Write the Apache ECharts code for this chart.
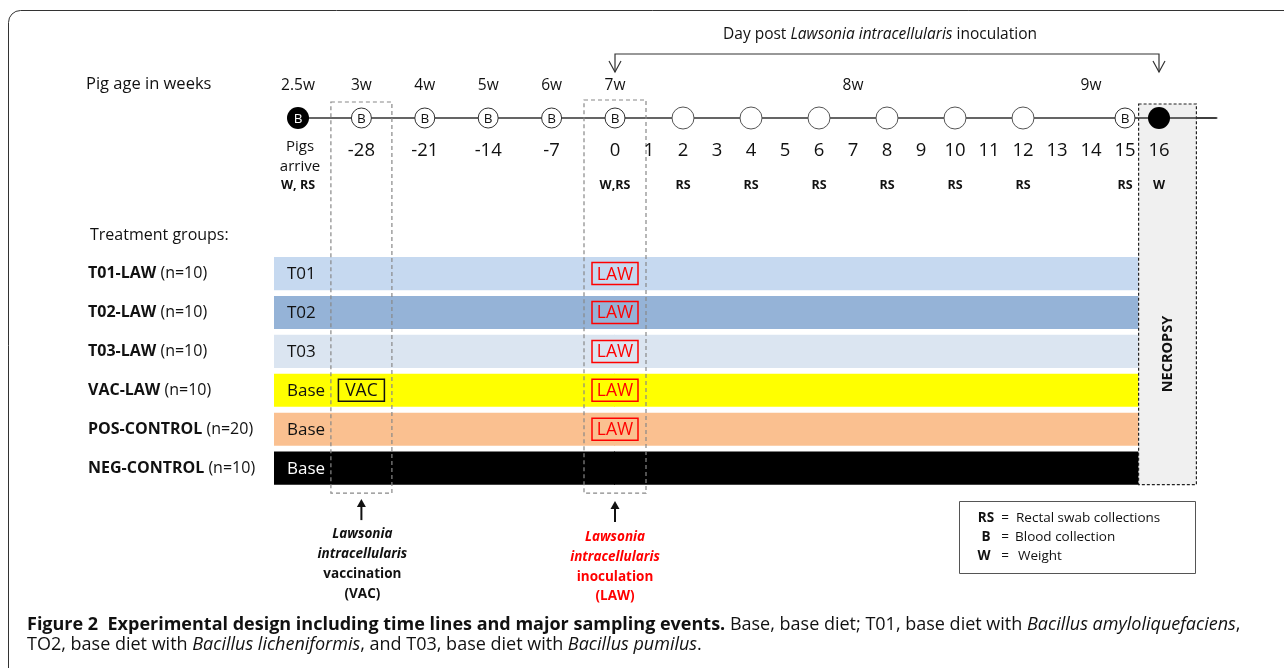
<!DOCTYPE html>
<html><head><meta charset="utf-8">
<script src="https://cdn.jsdelivr.net/npm/echarts@6/dist/echarts.min.js"></script>
<style>html,body{margin:0;padding:0;background:#fff}#c{width:1284px;height:668px}</style>
</head><body><div id="c"></div>
<script>
// ---------- data ----------
const preColumns = ['arrive', '-28', '-21', '-14', '-7', '0'];
const preWeeks = ['2.5w', '3w', '4w', '5w', '6w', '7w'];
const preNodes = ['B-filled', 'B', 'B', 'B', 'B', null];
const preSamples = ['W, RS', '', '', '', '', ''];
const postDayTicks = [0, 1, 2, 3, 4, 5, 6, 7, 8, 9, 10, 11, 12, 13, 14, 15, 16];
const postDays = [0, 2, 4, 6, 8, 10, 12, 15, 16];
const postNodes = ['B', 'open', 'open', 'open', 'open', 'open', 'open', 'B', 'filled'];
const postSamples = ['W,RS', 'RS', 'RS', 'RS', 'RS', 'RS', 'RS', 'RS', 'W'];
const postWeekDays = [7, 14];
const postWeekLabels = ['8w', '9w'];
const groups = ['T01-LAW', 'T02-LAW', 'T03-LAW', 'VAC-LAW', 'POS-CONTROL', 'NEG-CONTROL'];
const groupN = [10, 10, 10, 10, 20, 10];
const groupDiet = ['T01', 'T02', 'T03', 'Base', 'Base', 'Base'];
const groupVac = [false, false, false, true, false, false];
const groupLaw = [true, true, true, true, true, false];
const vacColumn = '-28';
const lawDay = 0;
const treatmentEndDay = 15.4;
const necropsyRange = [15.4, 17.1];
const bracketDays = [0, 16];
const dayMax = 17.7;

// ---------- styles ----------
const groupColors = ['#c6d9f0', '#95b3d7', '#dbe5f1', '#ffff00', '#fac090', '#000000'];
const groupTextColors = ['#111', '#111', '#111', '#111', '#111', '#fff'];
const FONT = '"Open Sans", Lato, sans-serif';
const ROW0 = 4;

function txt(text, x, y, o) {
  o = o || {};
  return { type: 'text', x: x, y: y, rotation: o.rotation || 0,
    style: { text: text, align: o.align || 'center', verticalAlign: 'middle',
      fill: o.fill || '#111', fontSize: o.size || 15, fontFamily: o.font || FONT,
      fontWeight: o.weight || 'normal', fontStyle: o.style || 'normal', rich: o.rich } };
}
function nodeShapes(type, x, y) {
  if (type === 'B-filled') return [
    { type: 'circle', shape: { cx: x, cy: y, r: 11 }, style: { fill: '#000' } },
    txt('B', x, y + 1, { fill: '#fff', size: 13.5 })];
  if (type === 'B') return [
    { type: 'circle', shape: { cx: x, cy: y, r: 10 }, style: { fill: '#fff', stroke: '#333', lineWidth: 1 } },
    txt('B', x, y + 1, { size: 13.5 })];
  if (type === 'open') return [
    { type: 'circle', shape: { cx: x, cy: y, r: 11 }, style: { fill: '#fff', stroke: '#555', lineWidth: 1 } }];
  if (type === 'filled') return [
    { type: 'circle', shape: { cx: x, cy: y, r: 11 }, style: { fill: '#000' } }];
  return [];
}

const groupData = groups.map((g, i) => [0, i + ROW0, i]);
const axisLine = { onZero: true, lineStyle: { color: '#333', width: 1.5 } };
const capRich = {
  b: { fontWeight: 'bold', fontSize: 18, fontFamily: FONT, fill: '#111' },
  r: { fontSize: 18, fontFamily: FONT, fill: '#111' },
  i: { fontSize: 18, fontFamily: FONT, fontStyle: 'italic', fill: '#111' } };

const option = {
  animation: false,
  backgroundColor: '#fff',
  grid: [
    { left: 298, right: 669, top: 79.1, bottom: 161 },
    { left: 615, right: 1284 - (615 + dayMax * 34), top: 79.1, bottom: 161 }
  ],
  xAxis: [
    { gridIndex: 0, type: 'category', data: preColumns, boundaryGap: false,
      axisLine: axisLine, axisTick: { show: false }, splitLine: { show: false }, axisLabel: { show: false } },
    { gridIndex: 1, type: 'value', min: 0, max: dayMax, interval: 1,
      axisLine: axisLine, axisTick: { show: false }, splitLine: { show: false }, axisLabel: { show: false } }
  ],
  yAxis: [
    { gridIndex: 0, type: 'value', min: -1, max: 10, inverse: true, show: false },
    { gridIndex: 1, type: 'value', min: -1, max: 10, inverse: true, show: false }
  ],
  graphic: [
    { type: 'rect', shape: { x: 8.5, y: 10.5, width: 1400, height: 700, r: 12 },
      style: { fill: null, stroke: '#333', lineWidth: 1 }, z: 100 },
    txt('Pig age in weeks', 86, 84, { align: 'left', size: 16.5 }),
    txt('Treatment groups:', 90, 235, { align: 'left', size: 16 }),
    { type: 'rect', shape: { x: 959.5, y: 501.5, width: 236, height: 72 },
      style: { fill: '#fff', stroke: '#555', lineWidth: 1 } },
    txt('RS', 986, 518, { weight: 'bold', size: 13.5 }), txt('=', 1005, 518, { size: 13.5 }),
    txt('Rectal swab collections', 1016, 518, { align: 'left', size: 13.5 }),
    txt('B', 986, 537, { weight: 'bold', size: 13.5 }), txt('=', 1005, 537, { size: 13.5 }),
    txt('Blood collection', 1015, 537, { align: 'left', size: 13.5 }),
    txt('W', 984, 556, { weight: 'bold', size: 13.5 }), txt('=', 1005, 556, { size: 13.5 }),
    txt('Weight', 1018, 556, { align: 'left', size: 13.5 }),
    txt('{b|Figure 2  Experimental design including time lines and major sampling events.}{r| Base, base diet; T01, base diet with }{i|Bacillus amyloliquefaciens}{r|,}', 27, 625, { align: 'left', rich: capRich }),
    txt('{r|TO2, base diet with }{i|Bacillus licheniformis}{r|, and T03, base diet with }{i|Bacillus pumilus}{r|.}', 27, 645, { align: 'left', rich: capRich })
  ],
  series: [
    // treatment bars, pre-inoculation part
    { type: 'custom', xAxisIndex: 0, yAxisIndex: 0, clip: false, data: groupData, encode: { x: 0, y: 1 },
      renderItem: function (params, api) {
        const i = api.value(2), row = api.value(1);
        const p0 = api.coord([0, row]), p1 = api.coord([preColumns.length - 1, row]);
        const h = api.size([0, 1])[1] * 0.85;
        const x0 = p0[0] - 24;
        const ch = [
          { type: 'rect', shape: { x: x0, y: p0[1] - h / 2, width: p1[0] - x0, height: h }, style: { fill: groupColors[i] } },
          txt(groupDiet[i], x0 + 13, p0[1] + 1, { align: 'left', size: 17, fill: groupTextColors[i] }),
          txt('{a|' + groups[i] + '}{b| (n=' + groupN[i] + ')}', x0 - 186, p0[1], { align: 'left',
            rich: { a: { fontWeight: 'bold', fontSize: 16, fontFamily: FONT, fill: '#111' },
                    b: { fontSize: 16, fontFamily: FONT, fill: '#111' } } })
        ];
        if (groupVac[i]) {
          const pv = api.coord([preColumns.indexOf(vacColumn), row]);
          ch.push({ type: 'rect', shape: { x: pv[0] - 23, y: pv[1] - 11, width: 46, height: 22 },
            style: { fill: null, stroke: '#111', lineWidth: 1.5 } });
          ch.push(txt('VAC', pv[0], pv[1] + 1, { size: 17.5 }));
        }
        return { type: 'group', children: ch };
      } },
    // treatment bars, post-inoculation part
    { type: 'custom', xAxisIndex: 1, yAxisIndex: 1, clip: false, data: groupData, encode: { x: 0, y: 1 },
      renderItem: function (params, api) {
        const i = api.value(2), row = api.value(1);
        const p0 = api.coord([0, row]), p1 = api.coord([treatmentEndDay, row]);
        const h = api.size([0, 1])[1] * 0.85;
        const ch = [{ type: 'rect', shape: { x: p0[0] - 1, y: p0[1] - h / 2, width: p1[0] - p0[0] + 1, height: h }, style: { fill: groupColors[i] } }];
        if (groupLaw[i]) {
          const pl = api.coord([lawDay, row]);
          ch.push({ type: 'rect', shape: { x: pl[0] - 23, y: pl[1] - 11, width: 46, height: 22 },
            style: { fill: null, stroke: '#ff0000', lineWidth: 1.5 } });
          ch.push(txt('LAW', pl[0], pl[1] + 1, { size: 17.5, fill: '#ff0000' }));
        }
        return { type: 'group', children: ch };
      } },
    // necropsy column
    { type: 'custom', xAxisIndex: 1, yAxisIndex: 1, clip: false,
      data: [[necropsyRange[0], 0, necropsyRange[1]]], encode: { x: [0, 2], y: 1 },
      renderItem: function (params, api) {
        const a = api.coord([api.value(0), 0]), b = api.coord([api.value(2), 0]);
        const last = api.coord([0, groups.length - 1 + ROW0]);
        const h = api.size([0, 1])[1] * 0.85;
        const top = a[1] - 14, bottom = last[1] + h / 2;
        return { type: 'group', children: [
          { type: 'rect', shape: { x: a[0], y: top, width: b[0] - a[0], height: bottom - top },
            style: { fill: '#f0f0f0', stroke: '#222', lineWidth: 1.2, lineDash: [3, 2] } },
          { type: 'line', shape: { x1: a[0], y1: a[1], x2: b[0] + 20, y2: a[1] }, style: { stroke: '#333', lineWidth: 1.5 } },
          txt('NECROPSY', (a[0] + b[0]) / 2, 354, { rotation: Math.PI / 2, weight: 'bold', size: 14.5 })
        ] };
      } },
    // dashed event box + arrow + caption (vaccination)
    { type: 'custom', xAxisIndex: 0, yAxisIndex: 0, clip: false,
      data: [[preColumns.indexOf(vacColumn), 0]], encode: { x: 0, y: 1 },
      renderItem: function (params, api) {
        const p = api.coord([api.value(0), 0]);
        const last = api.coord([0, groups.length - 1 + ROW0]);
        const top = p[1] - 16, bottom = last[1] + 25;
        const x = p[0];
        return { type: 'group', children: [
          { type: 'rect', shape: { x: x - 30.5, y: top, width: 61, height: bottom - top },
            style: { fill: null, stroke: '#888', lineWidth: 1.2, lineDash: [4, 3] } },
          { type: 'line', shape: { x1: x, y1: bottom + 10, x2: x, y2: bottom + 27 }, style: { stroke: '#111', lineWidth: 2 } },
          { type: 'polygon', shape: { points: [[x, bottom + 6], [x - 4.5, bottom + 14], [x + 4.5, bottom + 14]] }, style: { fill: '#111' } },
          txt('Lawsonia', x + 1, bottom + 41, { weight: 'bold', style: 'italic', size: 13.5 }),
          txt('intracellularis', x + 1, bottom + 61, { weight: 'bold', style: 'italic', size: 13.5 }),
          txt('vaccination', x + 1, bottom + 81, { weight: 'bold', size: 13.5 }),
          txt('(VAC)', x + 1, bottom + 101, { weight: 'bold', size: 13.5 })
        ] };
      } },
    // dashed event box + arrow + caption (inoculation)
    { type: 'custom', xAxisIndex: 1, yAxisIndex: 1, clip: false,
      data: [[lawDay, 0]], encode: { x: 0, y: 1 },
      renderItem: function (params, api) {
        const p = api.coord([api.value(0), 0]);
        const last = api.coord([0, groups.length - 1 + ROW0]);
        const top = p[1] - 18, bottom = last[1] + 25;
        const x = p[0];
        const red = '#ff0000';
        return { type: 'group', children: [
          { type: 'rect', shape: { x: x - 31, y: top, width: 62, height: bottom - top },
            style: { fill: null, stroke: '#888', lineWidth: 1.2, lineDash: [4, 3] } },
          { type: 'line', shape: { x1: x, y1: bottom + 12, x2: x, y2: bottom + 29 }, style: { stroke: '#111', lineWidth: 2 } },
          { type: 'polygon', shape: { points: [[x, bottom + 8], [x - 4.5, bottom + 16], [x + 4.5, bottom + 16]] }, style: { fill: '#111' } },
          txt('Lawsonia', x, bottom + 44, { weight: 'bold', style: 'italic', size: 13.5, fill: red }),
          txt('intracellularis', x, bottom + 64, { weight: 'bold', style: 'italic', size: 13.5, fill: red }),
          txt('inoculation', x, bottom + 84, { weight: 'bold', size: 13.5, fill: red }),
          txt('(LAW)', x, bottom + 103, { weight: 'bold', size: 13.5, fill: red })
        ] };
      } },
    // timeline nodes + labels before inoculation
    { type: 'custom', xAxisIndex: 0, yAxisIndex: 0, clip: false,
      data: preColumns.map((c, i) => [i, 0, i]), encode: { x: 0, y: 1 },
      renderItem: function (params, api) {
        const i = api.value(2); const p = api.coord([i, 0]);
        let ch = [];
        if (preWeeks[i]) ch.push(txt(preWeeks[i], p[0], p[1] - 32, { size: 15.5 }));
        if (preNodes[i]) ch = ch.concat(nodeShapes(preNodes[i], p[0], p[1]));
        if (preColumns[i] === 'arrive') {
          ch.push(txt('Pigs', p[0] + 2, p[1] + 29, { size: 15 }));
          ch.push(txt('arrive', p[0] + 2, p[1] + 49, { size: 15 }));
        } else if (preColumns[i] !== '0') {
          ch.push(txt(preColumns[i], p[0], p[1] + 33, { size: 18.5 }));
        }
        if (preSamples[i]) ch.push(txt(preSamples[i], p[0], p[1] + 67, { weight: 'bold', size: 12.5 }));
        return { type: 'group', children: ch };
      } },
    // day numbers after inoculation
    { type: 'custom', xAxisIndex: 1, yAxisIndex: 1, clip: false,
      data: postDayTicks.map(d => [d, 0]), encode: { x: 0, y: 1 },
      renderItem: function (params, api) {
        const p = api.coord([api.value(0), 0]);
        return txt(String(api.value(0)), p[0], p[1] + 33, { size: 18.5 });
      } },
    // timeline nodes after inoculation
    { type: 'custom', xAxisIndex: 1, yAxisIndex: 1, clip: false,
      data: postDays.map((d, k) => [d, 0, k]), encode: { x: 0, y: 1 },
      renderItem: function (params, api) {
        const k = api.value(2); const p = api.coord([api.value(0), 0]);
        let ch = nodeShapes(postNodes[k], p[0], p[1]);
        if (postSamples[k]) ch.push(txt(postSamples[k], p[0], p[1] + 67, { weight: 'bold', size: 12.5 }));
        return { type: 'group', children: ch };
      } },
    // week labels after inoculation
    { type: 'custom', xAxisIndex: 1, yAxisIndex: 1, clip: false,
      data: postWeekDays.map((d, k) => [d, 0, k]), encode: { x: 0, y: 1 },
      renderItem: function (params, api) {
        const p = api.coord([api.value(0), 0]);
        return txt(postWeekLabels[api.value(2)], p[0], p[1] - 32, { size: 15.5 });
      } },
    // bracket: day post inoculation
    { type: 'custom', xAxisIndex: 1, yAxisIndex: 1, clip: false,
      data: [[bracketDays[0], 0, bracketDays[1]]], encode: { x: [0, 2], y: 1 },
      renderItem: function (params, api) {
        const a = api.coord([api.value(0), 0]), b = api.coord([api.value(2), 0]);
        const yl = a[1] - 64, tip = a[1] - 46;
        const arrow = x => ({ type: 'polyline', shape: { points: [[x - 6, tip - 11], [x, tip], [x + 6, tip - 11]] }, style: { stroke: '#333', lineWidth: 1.2, fill: null } });
        return { type: 'group', children: [
          { type: 'polyline', shape: { points: [[a[0], tip], [a[0], yl], [b[0], yl], [b[0], tip]] }, style: { stroke: '#333', lineWidth: 1.2, fill: null } },
          arrow(a[0]), arrow(b[0]),
          txt('{r|Day post }{i|Lawsonia intracellularis}{r| inoculation}', (a[0] + b[0]) / 2 - 7, a[1] - 83, {
            rich: { r: { fontSize: 15.5, fontFamily: FONT, fill: '#111' },
                    i: { fontSize: 15.5, fontFamily: FONT, fontStyle: 'italic', fill: '#111' } } })
        ] };
      } }
  ]
};
echarts.init(document.getElementById('c')).setOption(option);
</script></body></html>
